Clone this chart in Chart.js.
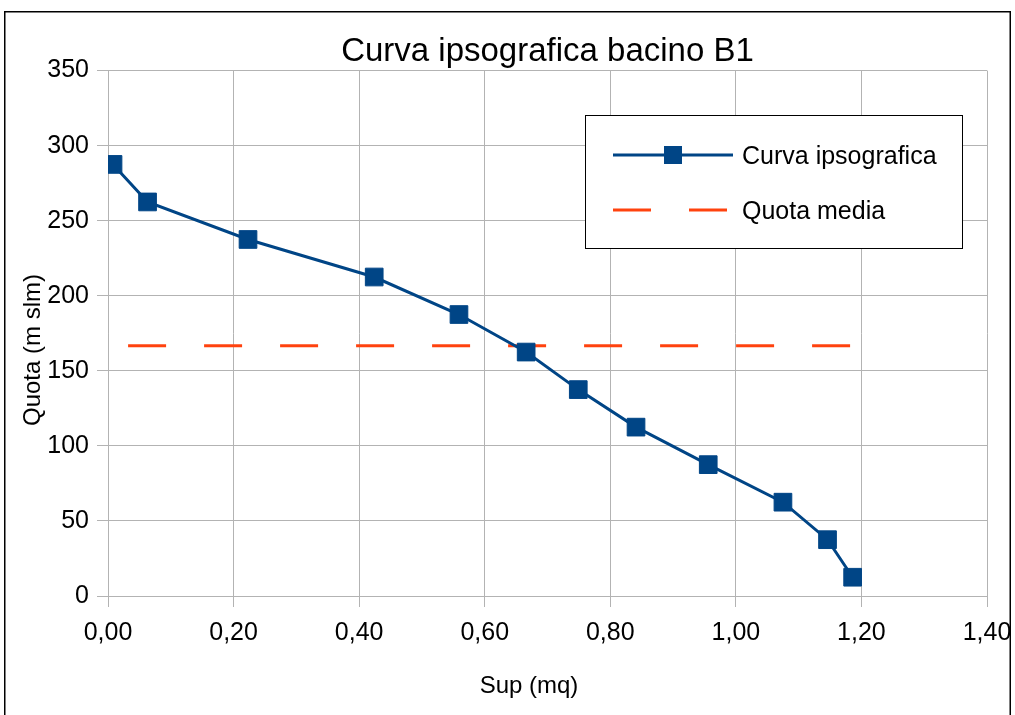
<!DOCTYPE html>
<html>
<head>
<meta charset="utf-8">
<script src="https://cdn.jsdelivr.net/npm/chart.js@4"></script>
<style>
  html, body { margin: 0; padding: 0; background: #fff; }
  #wrap { position: relative; width: 1015px; height: 715px; }
  canvas { display: block; }
</style>
</head>
<body>
<div id="wrap"><canvas id="c" width="1015" height="715"></canvas></div>
<script>
const chartTitle = 'Curva ipsografica bacino B1';
const xAxisTitle = 'Sup (mq)';
const yAxisTitle = 'Quota (m slm)';
const seriesCurvaLabel = 'Curva ipsografica';
const seriesMediaLabel = 'Quota media';
const supValues = [0.008, 0.063, 0.223, 0.424, 0.559, 0.666, 0.749, 0.841, 0.956, 1.075, 1.146, 1.186];
const quotaValues = [287.5, 262.5, 237.5, 212.5, 187.5, 162.5, 137.5, 112.5, 87.5, 62.5, 37.5, 12.5];
const mediaX = [0.032, 1.187];
const mediaY = [166.7, 166.7];
const xTicks = [0, 0.2, 0.4, 0.6, 0.8, 1.0, 1.2, 1.4];
const yTicks = [0, 50, 100, 150, 200, 250, 300, 350];

const BLUE = '#004586';
const ORANGE = '#ff420e';
const GRID = '#b3b3b3';
const FONT = "'Liberation Sans', Arial, sans-serif";

const curvaData = supValues.map((x, i) => ({x, y: quotaValues[i]}));
const mediaData = mediaX.map((x, i) => ({x, y: mediaY[i]}));

const framePlugin = {
  id: 'frame',
  beforeDraw(chart) {
    const ctx = chart.ctx;
    ctx.save();
    ctx.fillStyle = '#fff';
    ctx.fillRect(0, 0, chart.width, chart.height);
    ctx.strokeStyle = '#000';
    ctx.lineWidth = 1.5;
    ctx.strokeRect(4.75, 11.75, 1005.5, 800);
    ctx.restore();
  }
};

const axisTitlePlugin = {
  id: 'axisTitles',
  afterDraw(chart) {
    const ctx = chart.ctx;
    ctx.save();
    ctx.fillStyle = '#000';
    ctx.font = '24px ' + FONT;
    ctx.textAlign = 'center';
    ctx.textBaseline = 'middle';
    ctx.fillText(xAxisTitle, 529, 686);
    ctx.translate(33, 350);
    ctx.rotate(-Math.PI / 2);
    ctx.fillText(yAxisTitle, 0, 0);
    ctx.restore();
  }
};

const legendPlugin = {
  id: 'customLegend',
  afterDraw(chart) {
    const ctx = chart.ctx;
    const ds = chart.data.datasets;
    ctx.save();
    ctx.fillStyle = '#fff';
    ctx.fillRect(585, 115, 378, 134);
    ctx.strokeStyle = '#000';
    ctx.lineWidth = 1;
    ctx.strokeRect(585.5, 115.5, 377, 133);
    ctx.strokeStyle = ds[0].borderColor;
    ctx.lineWidth = 3;
    ctx.beginPath(); ctx.moveTo(613, 155); ctx.lineTo(733, 155); ctx.stroke();
    ctx.fillStyle = ds[0].pointBackgroundColor;
    ctx.fillRect(664, 146, 18, 18);
    ctx.strokeStyle = ds[1].borderColor;
    ctx.setLineDash([38, 38]);
    ctx.beginPath(); ctx.moveTo(613, 210); ctx.lineTo(727, 210); ctx.stroke();
    ctx.setLineDash([]);
    ctx.fillStyle = '#000';
    ctx.font = '25px ' + FONT;
    ctx.textBaseline = 'middle';
    ctx.textAlign = 'left';
    ctx.fillText(ds[0].label, 742, 157);
    ctx.fillText(ds[1].label, 742, 212);
    ctx.restore();
  }
};

new Chart(document.getElementById('c'), {
  type: 'scatter',
  data: {
    datasets: [
      {
        label: seriesCurvaLabel,
        data: curvaData,
        showLine: true,
        borderColor: BLUE,
        borderWidth: 3,
        pointStyle: 'rect',
        pointRadius: 12.5,
        pointHoverRadius: 12.5,
        pointBackgroundColor: BLUE,
        pointBorderColor: BLUE,
        pointBorderWidth: 1,
        tension: 0
      },
      {
        label: seriesMediaLabel,
        data: mediaData,
        showLine: true,
        borderColor: ORANGE,
        borderWidth: 3,
        borderDash: [38, 38],
        pointRadius: 0,
        pointHoverRadius: 0,
        tension: 0
      }
    ]
  },
  options: {
    responsive: false,
    animation: false,
    devicePixelRatio: 1,
    layout: { padding: { left: 0, right: 0, top: 0, bottom: 0 } },
    plugins: {
      legend: { display: false },
      tooltip: { enabled: false },
      title: {
        display: true,
        fullSize: false,
        text: chartTitle,
        color: '#000',
        font: { family: FONT, size: 33, weight: 'normal' },
        padding: { top: 32, bottom: -1 }
      }
    },
    scales: {
      x: {
        type: 'linear',
        min: 0, max: 1.4,
        afterBuildTicks(scale) { scale.ticks = xTicks.map(v => ({value: v})); },
        afterFit(scale) { scale.height = 119; scale.paddingRight = 28; scale.paddingLeft = 0; },
        ticks: {
          color: '#000',
          font: { family: FONT, size: 25 },
          padding: 11,
          maxRotation: 0,
          callback: v => v.toFixed(2).replace('.', ',')
        },
        grid: { color: GRID, lineWidth: 1, tickLength: 11, drawTicks: true },
        border: { color: GRID, width: 1 },
        title: { display: false }
      },
      y: {
        type: 'linear',
        min: 0, max: 350,
        afterBuildTicks(scale) { scale.ticks = yTicks.map(v => ({value: v})); },
        afterFit(scale) { scale.width = 108; },
        ticks: {
          color: '#000',
          font: { family: FONT, size: 25 },
          padding: 8,
          callback: v => String(v)
        },
        grid: { color: GRID, lineWidth: 1, tickLength: 11, drawTicks: true },
        border: { color: GRID, width: 1 },
        title: { display: false }
      }
    }
  },
  plugins: [framePlugin, axisTitlePlugin, legendPlugin]
});
</script>
</body>
</html>
